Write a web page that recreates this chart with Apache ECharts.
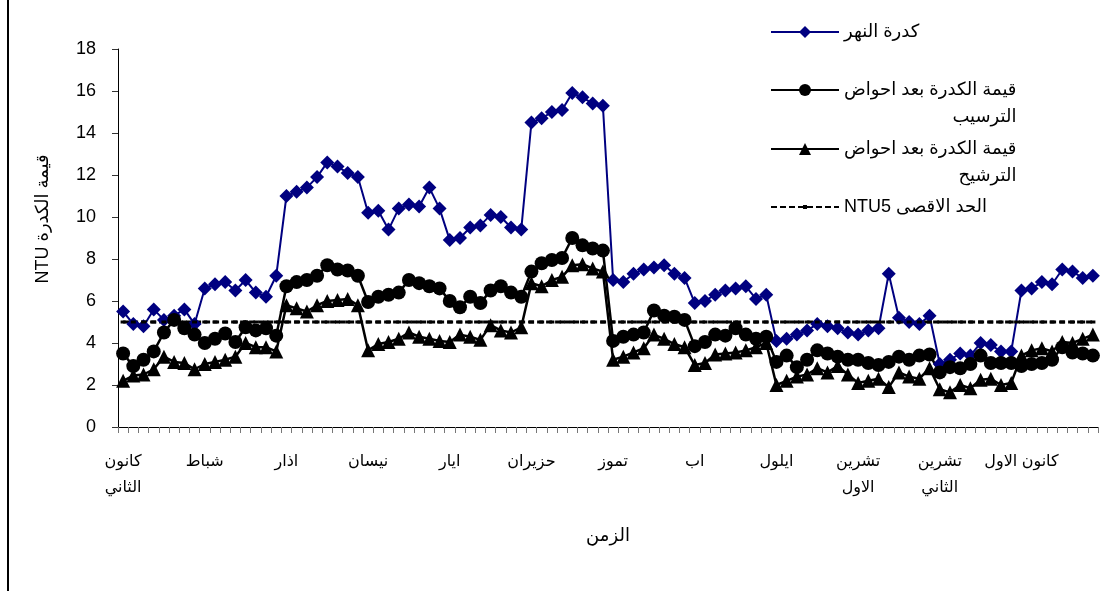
<!DOCTYPE html>
<html>
<head>
<meta charset="utf-8">
<script src="https://cdn.jsdelivr.net/npm/echarts@6/dist/echarts.min.js"></script>
<style>
html,body{margin:0;padding:0;background:#fff;}
#chart{width:1110px;height:591px;}
</style>
</head>
<body>
<div id="chart"></div>
<script>
// Month labels (each month has 8 readings)
const months = ['كانون\nالثاني', 'شباط', 'اذار', 'نيسان', 'ايار', 'حزيران', 'تموز', 'اب', 'ايلول', 'تشرين\nالاول', 'تشرين\nالثاني', 'كانون الاول'];
const readingsPerMonth = 8;

const seriesNames = ['كدرة النهر', 'قيمة الكدرة بعد احواض\nالترسيب', 'قيمة الكدرة بعد احواض\nالترشيح', 'NTU5 الحد الاقصى'];

const riverTurbidity = [
  5.5, 4.9, 4.8, 5.6, 5.1, 5.3, 5.6, 4.9,
  6.6, 6.8, 6.9, 6.5, 7.0, 6.4, 6.2, 7.2,
  11.0, 11.2, 11.4, 11.9, 12.6, 12.4, 12.1, 11.9,
  10.2, 10.3, 9.4, 10.4, 10.6, 10.5, 11.4, 10.4,
  8.9, 9.0, 9.5, 9.6, 10.1, 10.0, 9.5, 9.4,
  14.5, 14.7, 15.0, 15.1, 15.9, 15.7, 15.4, 15.3,
  7.0, 6.9, 7.3, 7.5, 7.6, 7.7, 7.3, 7.1,
  5.9, 6.0, 6.3, 6.5, 6.6, 6.7, 6.1, 6.3,
  4.1, 4.2, 4.4, 4.6, 4.9, 4.8, 4.7, 4.5,
  4.4, 4.6, 4.7, 7.3, 5.2, 5.0, 4.9, 5.3,
  3.0, 3.2, 3.5, 3.4, 4.0, 3.9, 3.6, 3.6,
  6.5, 6.6, 6.9, 6.8, 7.5, 7.4, 7.1, 7.2
];

const afterSettling = [
  3.5, 2.9, 3.2, 3.6, 4.5, 5.1, 4.7, 4.4,
  4.0, 4.2, 4.45, 4.05, 4.75, 4.6, 4.7, 4.35,
  6.7, 6.9, 7.0, 7.2, 7.7, 7.5, 7.45, 7.2,
  5.95, 6.2, 6.3, 6.4, 7.0, 6.85, 6.7, 6.6,
  6.0, 5.7, 6.2, 5.9, 6.5, 6.7, 6.4, 6.2,
  7.4, 7.8, 7.95, 8.05, 9.0, 8.65, 8.5, 8.4,
  4.1, 4.3, 4.4, 4.5, 5.55, 5.3, 5.25, 5.1,
  3.85, 4.05, 4.4, 4.35, 4.7, 4.4, 4.2, 4.3,
  3.1, 3.4, 2.85, 3.2, 3.65, 3.5, 3.35, 3.2,
  3.2, 3.05, 2.95, 3.1, 3.35, 3.2, 3.4, 3.45,
  2.6, 2.85, 2.8, 3.0, 3.4, 3.05, 3.05, 3.05,
  2.9, 3.0, 3.05, 3.2, 3.8, 3.55, 3.5, 3.4
];

const afterFiltration = [
  2.2, 2.45, 2.5, 2.75, 3.35, 3.1, 3.05, 2.75,
  3.0, 3.1, 3.2, 3.35, 4.0, 3.8, 3.8, 3.6,
  5.8, 5.65, 5.5, 5.8, 6.0, 6.05, 6.1, 5.8,
  3.65, 3.95, 4.05, 4.2, 4.5, 4.3, 4.2, 4.1,
  4.05, 4.4, 4.3, 4.15, 4.85, 4.6, 4.5, 4.75,
  6.85, 6.7, 7.0, 7.15, 7.7, 7.75, 7.55, 7.4,
  3.2, 3.35, 3.55, 3.75, 4.4, 4.2, 3.95, 3.8,
  2.95, 3.05, 3.45, 3.5, 3.55, 3.65, 3.8, 4.0,
  2.0, 2.2, 2.4, 2.5, 2.8, 2.6, 2.9, 2.5,
  2.1, 2.2, 2.3, 1.9, 2.6, 2.4, 2.3, 2.8,
  1.8, 1.65, 2.0, 1.85, 2.25, 2.3, 2.0, 2.1,
  3.4, 3.65, 3.75, 3.6, 4.05, 4.0, 4.2, 4.4
];

const limitValue = 5;

const yTicks = { min: 0, max: 18, interval: 2 };

// build category axis: one entry per reading
const categories = [];
months.forEach(function (m, mi) {
  for (let w = 0; w < readingsPerMonth; w++) categories.push(m + '#' + (mi * readingsPerMonth + w));
});
const limitLine = categories.map(function () { return limitValue; });

const FONT = 'Liberation Sans, Arial, DejaVu Sans, sans-serif';

function legendFor(name, top, twoLine, iconH) {
  const ts = {
    color: '#000', fontSize: 18, fontFamily: FONT, lineHeight: 27,
    rich: { r: { align: 'right', color: '#000', fontSize: 18, fontFamily: FONT, lineHeight: 27 } }
  };
  if (twoLine) ts.padding = [27, 0, 0, 0];
  return {
    data: [name], left: 770, top: top, orient: 'vertical', padding: 0,
    itemWidth: 68, itemHeight: iconH || 15, selectedMode: false,
    textStyle: ts,
    formatter: function (n) {
      return n.split('\n').map(function (l) { return '{r|' + l + '}'; }).join('\n');
    }
  };
}

const chart = echarts.init(document.getElementById('chart'), null, { renderer: 'canvas' });
chart.setOption({
  backgroundColor: '#fff',
  animation: false,
  grid: { left: 118, top: 49, right: 12, bottom: 164, containLabel: false },
  legend: [
    legendFor(seriesNames[0], 18.5, false),
    legendFor(seriesNames[1], 49.5, true),
    legendFor(seriesNames[2], 108.5, true),
    legendFor(seriesNames[3], 193.5, false, 5)
  ],
  graphic: [{
    type: 'line', shape: { x1: 8, y1: 0, x2: 8, y2: 591 },
    style: { stroke: '#000', lineWidth: 2 }, silent: true
  }],
  xAxis: {
    type: 'category', data: categories, boundaryGap: true,
    name: 'الزمن', nameLocation: 'middle', nameGap: 100,
    nameTextStyle: { color: '#000', fontSize: 18, fontFamily: FONT },
    axisLine: { lineStyle: { color: '#000', width: 1 } },
    axisTick: { show: true, interval: 0, length: 6, lineStyle: { color: '#777' } },
    axisLabel: {
      interval: readingsPerMonth - 1, margin: 22, color: '#000', fontSize: 16, fontFamily: FONT,
      lineHeight: 26, align: 'center',
      formatter: function (v) { return v.split('#')[0]; }
    },
    splitLine: { show: false }
  },
  yAxis: {
    type: 'value', min: yTicks.min, max: yTicks.max, interval: yTicks.interval,
    name: 'NTU قيمة الكدرة', nameLocation: 'middle', nameGap: 66, nameRotate: 90,
    nameTextStyle: { color: '#000', fontSize: 18, fontFamily: FONT, padding: [0, 0, 0, 38] },
    axisLine: { show: true, lineStyle: { color: '#000', width: 1 } },
    axisTick: { show: true, length: 6, lineStyle: { color: '#333' } },
    axisLabel: { margin: 22, color: '#000', fontSize: 18, fontFamily: FONT },
    splitLine: { show: false }
  },
  series: [
    {
      name: seriesNames[0], type: 'line', data: riverTurbidity,
      symbol: 'diamond', symbolSize: 14, showAllSymbol: true,
      lineStyle: { color: '#000080', width: 2 },
      itemStyle: { color: '#000080' }
    },
    {
      name: seriesNames[1], type: 'line', data: afterSettling,
      symbol: 'circle', symbolSize: 14, showAllSymbol: true,
      lineStyle: { color: '#000', width: 2.5 },
      itemStyle: { color: '#000' }
    },
    {
      name: seriesNames[2], type: 'line', data: afterFiltration,
      symbol: 'triangle', symbolSize: 14, showAllSymbol: true,
      lineStyle: { color: '#000', width: 2.5 },
      itemStyle: { color: '#000' }
    },
    {
      name: seriesNames[3], type: 'line', data: limitLine,
      symbol: 'rect', symbolSize: [5, 3], showAllSymbol: true,
      lineStyle: { color: '#000', width: 3, type: [6, 3] },
      itemStyle: { color: '#000' }
    }
  ]
});
</script>
</body>
</html>
